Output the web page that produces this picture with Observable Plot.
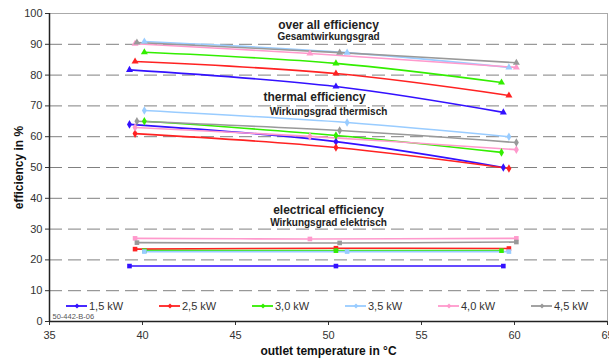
<!DOCTYPE html>
<html><head><meta charset="utf-8">
<script src="https://cdn.jsdelivr.net/npm/d3@7"></script>
<script src="https://cdn.jsdelivr.net/npm/@observablehq/plot@0.6"></script>
<style>
body{margin:0;background:#fff;font-family:"Liberation Sans",Arial,sans-serif}
#wrap{position:relative;width:609px;height:360px}
#legend{position:absolute;left:66px;top:299px;display:flex;font-size:11px;color:#333}
#legend .item{width:93px;display:flex;align-items:center;height:14px}
#legend svg{margin-right:1px}
g[aria-label="y-axis label"] text, g[aria-label="x-axis label"] text{font-weight:bold;font-size:12px;fill:#111}
</style></head><body><div id="wrap"></div><script>
const series = ["1,5 kW","2,5 kW","3,0 kW","3,5 kW","4,0 kW","4,5 kW"];
const colors = ["#3311ff","#ff2222","#33ee00","#99ccff","#ff99cc","#999999"];
const temps = [[39.3,50.4,59.4],[39.6,50.4,59.7],[40.1,50.4,59.3],[40.1,51.0,59.7],[39.6,49.0,60.1],[39.7,50.6,60.1]];
const overall = [[81.7,76.3,67.9],[84.4,80.5,73.4],[87.4,83.8,77.6],[90.9,87.3,82.5],[90.2,87.0,82.5],[90.6,87.3,84.0]];
const thermal = [[64.0,58.4,50.0],[61.0,56.5,49.7],[65.0,60.4,54.9],[68.5,64.6,60.0],[63.0,60.1,55.8],[65.0,62.0,58.1]];
const electrical = [[18.0,18.0,18.0],[23.5,23.8,23.7],[23.0,23.0,23.0],[22.7,22.7,22.7],[27.0,26.8,27.0],[25.6,25.5,25.8]];
const kinds = ["overall","thermal","electrical"];
const xTicks = [35,40,45,50,55,60,65];
const yTicks = [0,10,20,30,40,50,60,70,80,90,100];
const annotations = [
  {x:50.0, y:96.1, text:"over all efficiency", size:12},
  {x:50.0, y:92.3, text:"Gesamtwirkungsgrad", size:10},
  {x:49.25, y:73.0, text:"thermal efficiency", size:12},
  {x:50.0, y:68.2, text:"Wirkungsgrad thermisch", size:10},
  {x:50.0, y:36.0, text:"electrical efficiency", size:12},
  {x:50.0, y:32.1, text:"Wirkungsgrad elektrisch", size:10}
];
const code = "50-442-B-06";

const sets = {overall, thermal, electrical};
const rows = [];
series.forEach((s,i)=>kinds.forEach(k=>temps[i].forEach((t,j)=>rows.push({series:s, kind:k, x:t, y:sets[k][i][j]}))));

const chart = Plot.plot({
  width:609, height:360,
  marginLeft:49, marginRight:2, marginTop:13, marginBottom:39,
  style:{fontFamily:"Liberation Sans, Arial, sans-serif", fontSize:"11px", color:"#333"},
  x:{domain:[35,65], label:"outlet temperature in °C", labelArrow:"none"},
  y:{domain:[0,100], label:"efficiency in %", labelArrow:"none"},
  color:{domain:series, range:colors},
  symbol:{domain:kinds, range:["triangle","diamond","square"]},
  marks:[
    Plot.gridY(yTicks.filter(v=>v>0 && v<100), {stroke:"#808080", strokeOpacity:1, strokeDasharray:"13,6", strokeWidth:1}),
    Plot.ruleY([100], {stroke:"#aaa"}),
    Plot.ruleX([65], {stroke:"#aaa"}),
    Plot.axisY(yTicks, {tickSize:4, tickPadding:3, label:"efficiency in %", labelArrow:"none", labelAnchor:"center", labelOffset:35, fontSize:11}),
    Plot.axisX(xTicks, {tickSize:4, tickPadding:6, label:"outlet temperature in °C", labelArrow:"none", labelAnchor:"center", labelOffset:33, fontSize:11}),
    Plot.ruleY([0], {stroke:"#222", strokeWidth:1.5}),
    Plot.ruleX([35], {stroke:"#222", strokeWidth:1.5}),
    Plot.line(rows, {x:"x", y:"y", z:d=>d.series+d.kind, stroke:"series", strokeWidth:1.6, curve:"catmull-rom"}),
    Plot.dot(rows, {x:"x", y:"y", fill:"series", symbol:"kind", r:2.6}),
    Plot.text(annotations, {x:"x", y:"y", text:"text", fontSize:d=>d.size, fontWeight:"bold", fill:"#222"}),
    Plot.text([code], {frameAnchor:"bottom-left", dx:3, dy:-3, fontSize:7.5, fill:"#555", textAnchor:"start"})
  ]
});
document.getElementById("wrap").appendChild(chart);
const legend = document.createElement("div");
legend.id = "legend";
series.forEach((s,i)=>{
  const it = document.createElement("div");
  it.className="item";
  it.innerHTML = `<svg width="22" height="8"><line x1="0" y1="4" x2="21" y2="4" stroke="${colors[i]}" stroke-width="1.8"/><path d="M11,1.5L13.5,4L11,6.5L8.5,4Z" fill="${colors[i]}"/></svg><span>${s}</span>`;
  legend.appendChild(it);
});
document.getElementById("wrap").appendChild(legend);
</script></body></html>
